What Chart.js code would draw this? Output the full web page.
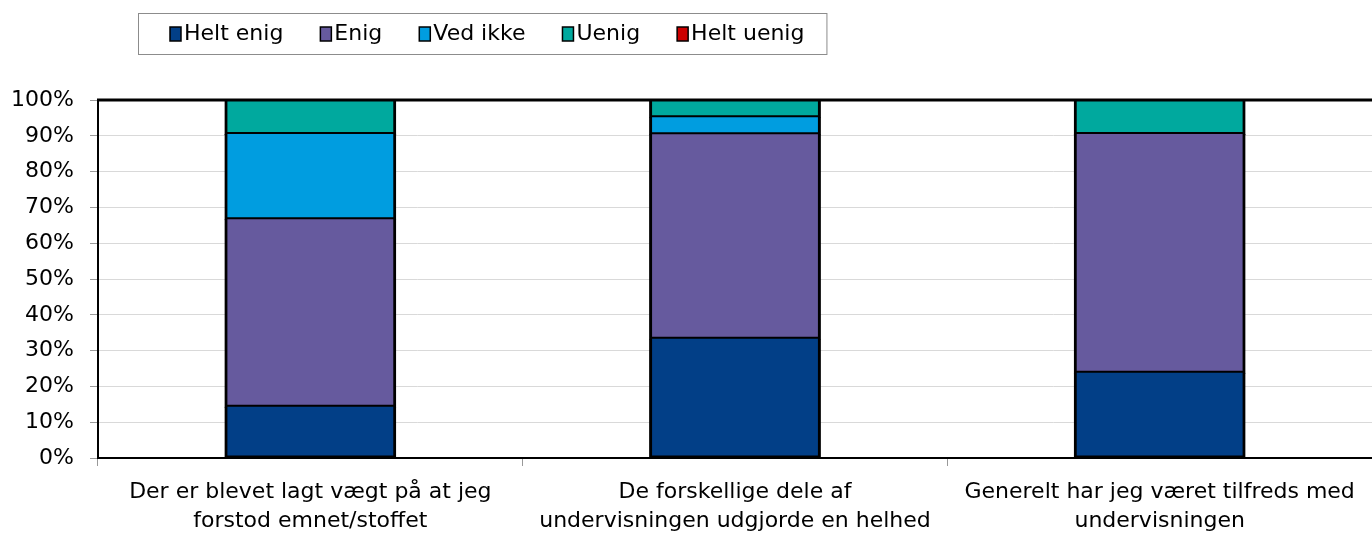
<!DOCTYPE html>
<html>
<head>
<meta charset="utf-8">
<script src="https://cdn.jsdelivr.net/npm/chart.js@4/dist/chart.umd.min.js"></script>
<style>
  html, body { margin: 0; padding: 0; background: #fff; }
  #wrap { width: 1372px; height: 536px; }
</style>
</head>
<body>
<div id="wrap"><canvas id="survey-chart" width="1372" height="536"></canvas></div>
<script>
// DATA
const categories = [
  ["Der er blevet lagt vægt på at jeg", "forstod emnet/stoffet"],
  ["De forskellige dele af", "undervisningen udgjorde en helhed"],
  ["Generelt har jeg været tilfreds med", "undervisningen"]
];
const seriesNames = ["Helt enig", "Enig", "Ved ikke", "Uenig", "Helt uenig"];
const heltEnig = [14.3, 33.3, 23.8];
const enig = [52.4, 57.1, 66.7];
const vedIkke = [23.8, 4.8, 0];
const uenig = [9.5, 4.8, 9.5];
const heltUenig = [0, 0, 0];
const yTicks = [0, 10, 20, 30, 40, 50, 60, 70, 80, 90, 100];

const seriesValues = [heltEnig, enig, vedIkke, uenig, heltUenig];
const seriesColors = ["#023F87", "#665A9E", "#009DE0", "#00A99E", "#CC0000"];

const FONT = "'DejaVu Sans', sans-serif";

// boxed legend drawn above the plot
const boxLegend = {
  id: "boxLegend",
  afterDraw(chart) {
    const ctx = chart.ctx;
    ctx.save();
    ctx.font = "22px " + FONT;
    ctx.textBaseline = "middle";
    let x = 170;
    const cy = 34;
    chart.data.datasets.forEach((ds, i) => {
      ctx.fillStyle = ds.backgroundColor;
      ctx.fillRect(x, cy - 7, 11, 14);
      ctx.strokeStyle = "#000";
      ctx.lineWidth = 1.5;
      ctx.strokeRect(x, cy - 7, 11, 14);
      ctx.fillStyle = "#000";
      ctx.fillText(ds.label, x + 14, cy);
      x += 14 + ctx.measureText(ds.label).width;
      if (i < chart.data.datasets.length - 1) x += 37;
    });
    ctx.strokeStyle = "#8c8c8c";
    ctx.lineWidth = 1;
    ctx.strokeRect(138.5, 13.5, x + 22 - 138, 41);
    ctx.restore();
  }
};

// black frame line along the top of the plot, over the bars
const topFrame = {
  id: "topFrame",
  afterDatasetsDraw(chart) {
    const { ctx, chartArea } = chart;
    ctx.save();
    ctx.strokeStyle = "#000";
    ctx.lineWidth = 3;
    ctx.beginPath();
    ctx.moveTo(chartArea.left - 1, chartArea.top);
    ctx.lineTo(chartArea.right, chartArea.top);
    ctx.stroke();
    ctx.restore();
  }
};

const datasets = seriesNames.map((name, i) => ({
  label: name,
  data: seriesValues[i],
  backgroundColor: seriesColors[i],
  borderColor: "#000",
  // no outline on empty segments
  borderWidth: (c) => (c.raw ? 3 : 0),
  borderSkipped: "end",
  inflateAmount: (c) => (c.raw ? 1 : 0),
  barPercentage: 0.4,
  categoryPercentage: 1
}));

new Chart(document.getElementById("survey-chart"), {
  type: "bar",
  data: { labels: categories, datasets: datasets },
  options: {
    responsive: false,
    animation: false,
    layout: { padding: { top: 100, left: 10, right: 0, bottom: 0 } },
    plugins: {
      legend: { display: false },
      tooltip: { enabled: false }
    },
    scales: {
      x: {
        stacked: true,
        afterFit: (scale) => { scale.height = 78; },
        border: { color: "#000", width: 2 },
        grid: {
          offset: true,
          drawOnChartArea: false,
          tickLength: 8,
          tickColor: "#999"
        },
        ticks: {
          color: "#000",
          padding: 12,
          maxRotation: 0,
          autoSkip: false,
          font: { family: FONT, size: 22, lineHeight: 1.32 }
        }
      },
      y: {
        stacked: true,
        min: 0,
        max: 100,
        afterFit: (scale) => { scale.width = 88; },
        afterBuildTicks: (scale) => { scale.ticks = yTicks.map((v) => ({ value: v })); },
        border: { color: "#000", width: 2 },
        grid: {
          color: "#d9d9d9",
          lineWidth: 1,
          tickLength: 8,
          tickColor: "#999"
        },
        ticks: {
          color: "#000",
          padding: 16,
          font: { family: FONT, size: 22 },
          callback: (v) => v + "%"
        }
      }
    }
  },
  plugins: [boxLegend, topFrame]
});
</script>
</body>
</html>
